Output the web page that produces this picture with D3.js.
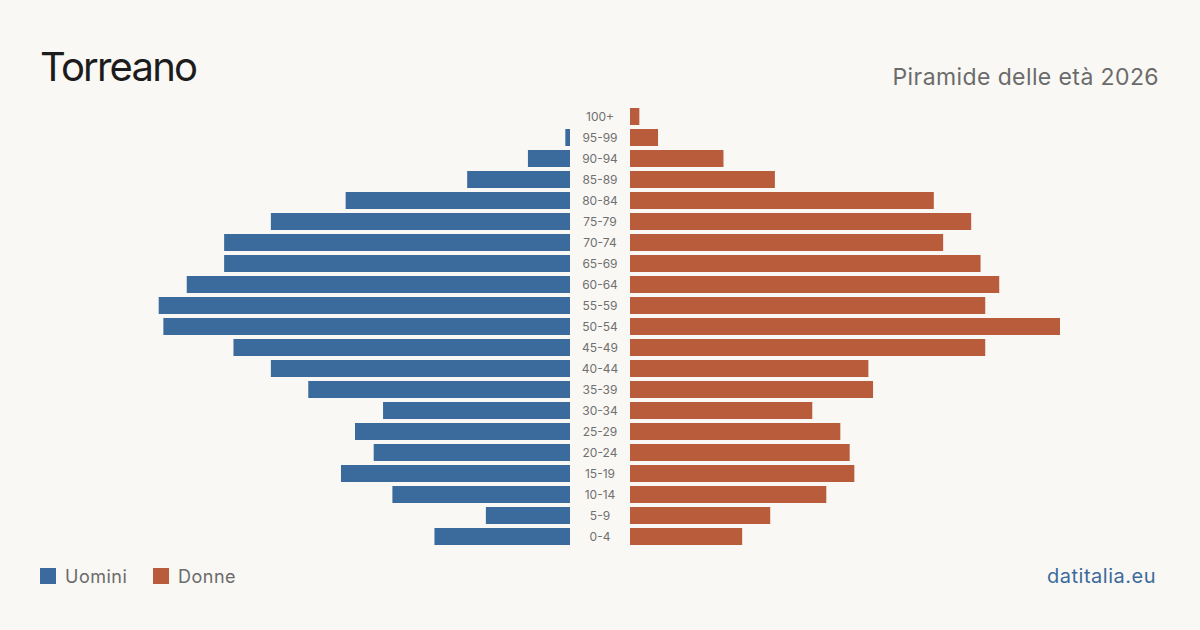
<!DOCTYPE html>
<html>
<head>
<meta charset="utf-8">
<script src="https://cdn.jsdelivr.net/npm/d3@7"></script>
<style>
  body { margin: 0; background: #f9f8f4; }
  svg { display: block; font-family: Inter, "Noto Sans", sans-serif; }
</style>
</head>
<body>
<div id="chart"></div>
<script>
// Age classes, top to bottom
const ages = ["100+", "95-99", "90-94", "85-89", "80-84", "75-79", "70-74", "65-69",
  "60-64", "55-59", "50-54", "45-49", "40-44", "35-39", "30-34", "25-29",
  "20-24", "15-19", "10-14", "5-9", "0-4"];
const men   = [0, 1, 9, 22, 48, 64, 74, 74, 82, 88, 87, 72, 64, 56, 40, 46, 42, 49, 38, 18, 29];
const women = [2, 6, 20, 31, 65, 73, 67, 75, 79, 76, 92, 76, 51, 52, 39, 45, 47, 48, 42, 30, 24];

const W = 1200, H = 630;
const blue = "#3b6b9c", red = "#b95c3c";

const svg = d3.select("#chart")
  .append("svg")
  .attr("width", W)
  .attr("height", H);

svg.append("rect").attr("width", W).attr("height", H).attr("fill", "#f9f8f4");

// Titles
svg.append("text")
  .attr("x", 40).attr("y", 81)
  .style("font-size", "40px")
  .style("letter-spacing", "-1.8px")
  .style("fill", "#1c1c1c")
  .text("Torreano");

svg.append("text")
  .attr("x", 1159).attr("y", 85)
  .attr("text-anchor", "end")
  .style("font-size", "23px")
  .style("letter-spacing", "0.4px")
  .style("fill", "#6b6b6b")
  .text("Piramide delle età 2026");

// Scales
const maxVal = d3.max(men.concat(women));
const y = d3.scaleBand()
  .domain(ages)
  .range([106, 547])
  .paddingInner(4 / 21)
  .paddingOuter(2 / 21);

const xLeft = d3.scaleLinear().domain([0, maxVal]).range([570, 570 - 430]);
const xRight = d3.scaleLinear().domain([0, maxVal]).range([630, 630 + 430]);

// Bars
svg.append("g")
  .selectAll("rect")
  .data(ages)
  .enter()
  .append("rect")
  .attr("x", (d, i) => xLeft(men[i]))
  .attr("y", d => y(d))
  .attr("width", (d, i) => xLeft(0) - xLeft(men[i]))
  .attr("height", y.bandwidth())
  .style("fill", blue);

svg.append("g")
  .selectAll("rect")
  .data(ages)
  .enter()
  .append("rect")
  .attr("x", xRight(0))
  .attr("y", d => y(d))
  .attr("width", (d, i) => xRight(women[i]) - xRight(0))
  .attr("height", y.bandwidth())
  .style("fill", red);

// Age labels in the middle
svg.append("g")
  .selectAll("text")
  .data(ages)
  .enter()
  .append("text")
  .attr("x", 600)
  .attr("y", d => y(d) + y.bandwidth() / 2)
  .attr("dy", "0.35em")
  .attr("text-anchor", "middle")
  .style("font-size", "12px")
  .style("fill", "#707070")
  .text(d => d);

// Legend
const legend = [["Uomini", blue, 40], ["Donne", red, 153]];
legend.forEach(([label, color, lx]) => {
  svg.append("rect")
    .attr("x", lx).attr("y", 568)
    .attr("width", 16).attr("height", 16)
    .style("fill", color);
  svg.append("text")
    .attr("x", lx + 25).attr("y", 583)
    .style("font-size", "18px")
    .style("letter-spacing", "0.5px")
    .style("fill", "#6b6b6b")
    .text(label);
});

svg.append("text")
  .attr("x", 1156).attr("y", 583)
  .attr("text-anchor", "end")
  .style("font-size", "20px")
  .style("letter-spacing", "0.5px")
  .style("fill", blue)
  .text("datitalia.eu");
</script>
</body>
</html>
